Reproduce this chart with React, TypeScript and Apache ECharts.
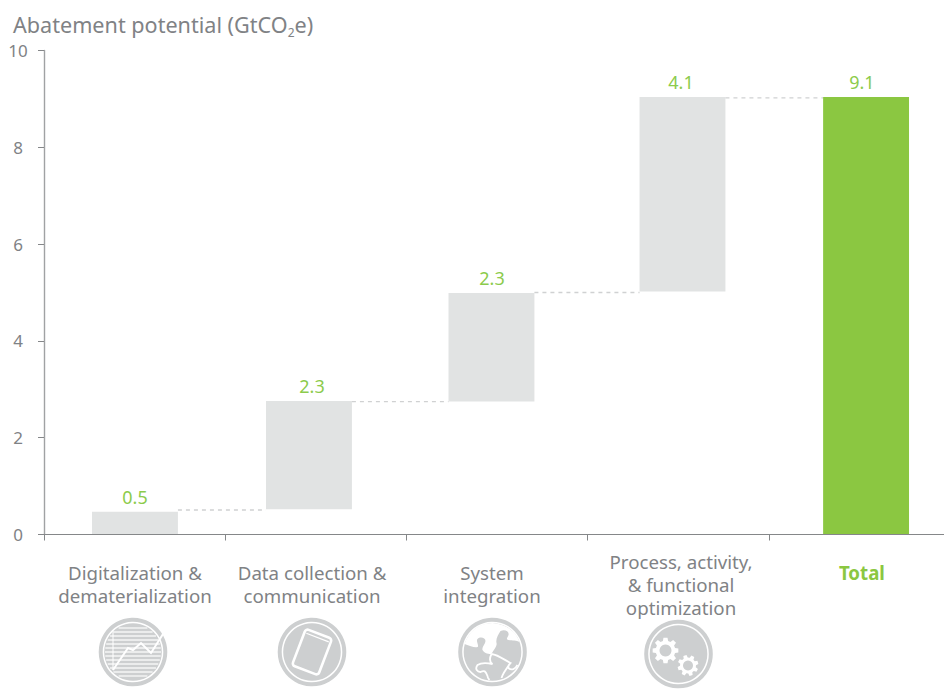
import React, { useEffect, useRef } from "react";
import * as echarts from "echarts";

const yTicks = [0, 2, 4, 6, 8, 10];
const categories = [
  "Digitalization &\ndematerialization",
  "Data collection &\ncommunication",
  "System\nintegration",
  "Process, activity,\n& functional\noptimization",
  "Total",
];
const valueLabels = ["0.5", "2.3", "2.3", "4.1", "9.1"];
const barSlots = [0.502, 1.462, 2.469, 3.523, 4.536];
const labelSlots = [0.502, 1.479, 2.472, 3.515, 4.513];
const barLows = [0, 0.52, 2.75, 5.02, 0];
const barHighs = [0.47, 2.76, 4.99, 9.04, 9.04];
const connectorLevels = [0.506, 2.745, 5.0, 9.02];

const GREY = "#808285";
const GREEN = "#8bc741";
const BAR_GREY = "#e1e3e3";
const ICON = "#cdcfd0";
const FONT = '"Noto Sans", sans-serif';

function gearPath(r: number, teeth: number): string {
  const step = (Math.PI * 2) / teeth;
  const inner = r * 0.76;
  const pts: string[] = [];
  for (let i = 0; i < teeth; i++) {
    const a = i * step;
    const seq: [number, number][] = [
      [inner, a - step * 0.34],
      [r, a - step * 0.2],
      [r, a + step * 0.2],
      [inner, a + step * 0.34],
    ];
    seq.forEach(([rad, ang]) => {
      pts.push(`${pts.length ? "L" : "M"}${(rad * Math.cos(ang)).toFixed(2)},${(rad * Math.sin(ang)).toFixed(2)}`);
    });
  }
  return pts.join(" ") + " Z";
}

echarts.graphic.registerShape("gearBig", echarts.graphic.extendPath(gearPath(13, 8) as any, {}) as any);
echarts.graphic.registerShape("gearSmall", echarts.graphic.extendPath(gearPath(10.5, 8) as any, {}) as any);
echarts.graphic.registerShape(
  "puzzleWhite",
  echarts.graphic.extendPath(
    "M-28,-8 C-22,-6 -18,-4 -15,-5 C-13,-6 -17,-11 -15,-13 C-12,-16 -7,-14 -7,-11 C-7,-8 -11,-5 -10,-2 C-8,2 -3,2 -1,2 C1,-2 5,-6 4,-9 C3,-13 6,-18 8,-21 C12,-23 17,-21 16,-17 C15,-14 13,-13 16,-12 C20,-11 24,-12 27,-10 C24,-20 14,-28 0,-29 C-14,-29 -24,-20 -28,-8 Z" as any,
    {}
  ) as any
);
echarts.graphic.registerShape(
  "puzzleLines",
  echarts.graphic.extendPath(
    "M-1,2 C6,3 12,8 18,11 C16,13 15,14 16,16 C19,19 23,17 25,13 M-1,2 C-3,6 -3,10 0,12 C-5,11 -12,11 -15,13 C-18,17 -15,20 -12,20 C-8,18 -7,19 -5,24 C-5,25 -4,27 -3,28 M18,11 C15,15 10,22 9,26" as any,
    {}
  ) as any
);

const iconBase = () => [
  { type: "circle", shape: { cx: 0, cy: 0, r: 32.3 }, style: { fill: "none", stroke: ICON, lineWidth: 4 } },
  { type: "circle", shape: { cx: 0, cy: 0, r: 28.8 }, style: { fill: ICON } },
];

const chartLines = () =>
  [-24, -20, -16, -12, -8, -4, 0, 4, 8, 12, 16, 20, 24].map((y) => {
    const half = Math.sqrt(Math.max(0, 28 * 28 - y * y));
    return {
      type: "line",
      shape: { x1: -half, y1: y, x2: half, y2: y },
      style: { stroke: "#ffffff", lineWidth: 1.4, opacity: 0.8 },
    };
  });

function buildGraphic() {
  return [
    {
      type: "group",
      x: 133,
      y: 652,
      children: [
        ...iconBase(),
        ...chartLines(),
        { type: "line", shape: { x1: -20, y1: -21, x2: -20, y2: 18 }, style: { stroke: "#ffffff", lineWidth: 1 } },
        {
          type: "polyline",
          shape: { points: [[-20, 18], [-5, -4], [0, -2], [8, -9], [18, 1], [30, -18]] },
          style: { stroke: "#ffffff", lineWidth: 2, fill: "none" },
        },
      ],
    },
    {
      type: "group",
      x: 312,
      y: 652,
      children: [
        ...iconBase(),
        {
          type: "rect",
          rotation: (-21 * Math.PI) / 180,
          shape: { x: -14, y: -19.5, width: 28, height: 39, r: 3 },
          style: { fill: ICON, stroke: "#ffffff", lineWidth: 2.6 },
        },
        {
          type: "line",
          rotation: (-21 * Math.PI) / 180,
          shape: { x1: -12, y1: -15.5, x2: 12, y2: -15.5 },
          style: { stroke: "#ffffff", lineWidth: 1.2 },
        },
      ],
    },
    {
      type: "group",
      x: 492.5,
      y: 652,
      children: [
        ...iconBase(),
        { type: "puzzleWhite", style: { fill: "#ffffff" } },
        { type: "puzzleLines", style: { fill: "none", stroke: "#ffffff", lineWidth: 1.8 } },
      ],
    },
    {
      type: "group",
      x: 678.5,
      y: 654,
      children: [
        ...iconBase(),
        { type: "gearBig", x: -13, y: -3.5, style: { fill: "#ffffff" } },
        { type: "circle", shape: { cx: -13, cy: -3.5, r: 6 }, style: { fill: ICON } },
        { type: "gearSmall", x: 9.5, y: 11.5, rotation: 0.3, style: { fill: "#ffffff" } },
        { type: "circle", shape: { cx: 9.5, cy: 11.5, r: 5 }, style: { fill: ICON } },
      ],
    },
  ];
}

export default function App() {
  const ref = useRef<HTMLDivElement>(null);
  useEffect(() => {
    const chart = echarts.init(ref.current!, undefined, { renderer: "svg" });
    const rows = barSlots.map((s, i) => [s, barLows[i], barHighs[i], labelSlots[i]]);
    chart.setOption({
      animation: false,
      backgroundColor: "#ffffff",
      textStyle: { fontFamily: FONT },
      title: {
        left: 8,
        top: 5,
        text: "{a|Abatement potential (GtCO}{s|2}{a|e)}",
        textStyle: {
          fontWeight: "normal",
          rich: {
            a: { fontFamily: FONT, fontSize: 21.6, fontWeight: "normal", color: GREY, lineHeight: 28 },
            s: { fontFamily: FONT, fontSize: 12, fontWeight: "normal", color: GREY, verticalAlign: "bottom", lineHeight: 14 },
          },
        },
      },
      grid: { left: 44, right: 0, top: 50.5, bottom: 154.5 },
      xAxis: {
        type: "value",
        min: 0,
        max: 4.966,
        z: 5,
        splitLine: { show: false },
        axisLine: { onZero: false, lineStyle: { color: "#858789", width: 1.2 } },
        axisTick: { show: true, length: 6, customValues: [0, 1, 2, 3, 4], lineStyle: { color: "#858789" } },
        axisLabel: {
          customValues: labelSlots,
          margin: 49.5,
          color: GREY,
          fontSize: 18.7,
          fontFamily: FONT,
          lineHeight: 23,
          align: "center",
          verticalAlign: "middle",
          formatter: (v: number) => {
            const i = labelSlots.indexOf(v);
            return i === categories.length - 1 ? `{t|${categories[i]}}\n{t| }` : categories[i];
          },
          rich: {
            t: { color: GREEN, fontWeight: "bold", fontSize: 18.7, fontFamily: FONT, lineHeight: 23 },
          },
        },
      },
      yAxis: {
        type: "value",
        min: 0,
        max: 10,
        interval: 2,
        splitLine: { show: false },
        axisLine: { show: true, onZero: false, lineStyle: { color: "#a0a2a4", width: 1.4 } },
        axisTick: { show: true, length: 6, lineStyle: { color: "#858789" } },
        axisLabel: {
          margin: 26,
          align: "center",
          padding: [0, 0, 4, 0],
          color: GREY,
          fontSize: 17,
          fontFamily: FONT,
          formatter: (v: number) => (yTicks.includes(v) ? String(v) : ""),
        },
      },
      series: [
        {
          type: "custom",
          clip: false,
          encode: { x: 0, y: [1, 2] },
          data: rows,
          renderItem: (params: any, api: any) => {
            const i = params.dataIndex;
            const slot = api.value(0);
            const halfW = api.size([0.474, 0])[0] / 2;
            const [cx, y0] = api.coord([slot, api.value(1)]);
            const [, y1] = api.coord([slot, api.value(2)]);
            const [tx] = api.coord([api.value(3), 0]);
            const children: any[] = [
              {
                type: "rect",
                shape: { x: cx - halfW, y: y1, width: halfW * 2, height: y0 - y1 },
                style: { fill: i === barSlots.length - 1 ? GREEN : BAR_GREY },
              },
              {
                type: "text",
                style: {
                  text: valueLabels[i],
                  x: tx,
                  y: y1 - 6,
                  align: "center",
                  verticalAlign: "bottom",
                  fill: "#8ccb4c",
                  fontSize: 18,
                  fontFamily: FONT,
                },
              },
            ];
            if (i < connectorLevels.length) {
              const [nx, ly] = api.coord([barSlots[i + 1], connectorLevels[i]]);
              children.push({
                type: "line",
                shape: { x1: cx + halfW, y1: ly, x2: nx - halfW, y2: ly },
                style: { stroke: "#d0d1d2", lineWidth: 1.3, lineDash: [4, 4] },
              });
            }
            return { type: "group", children };
          },
        },
      ],
      graphic: buildGraphic(),
    });
    return () => chart.dispose();
  }, []);
  return <div ref={ref} style={{ width: 944, height: 689, position: "absolute", left: 0, top: 0 }} />;
}
